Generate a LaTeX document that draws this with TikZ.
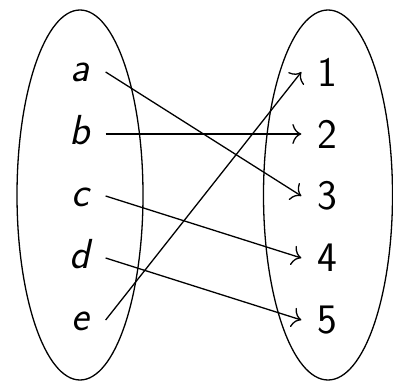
\documentclass[tikz,border=0pt]{standalone}
\usetikzlibrary{arrows.meta}
\begin{document}
\begin{tikzpicture}[x=1pt,y=1pt,
  line width=1.3pt,
  lbl/.style={font=\fontsize{42}{50}\selectfont\sffamily\itshape, inner sep=0pt, minimum width=50pt, text height=20pt, text depth=0pt, anchor=center},
  num/.style={font=\fontsize{42}{50}\selectfont\sffamily, inner sep=0pt, minimum width=50pt, anchor=center},
  arr/.style={-{Computer Modern Rightarrow[length=9pt,width=20pt]}}]
\useasboundingbox (0,0) rectangle (393,381);
\draw (80,186) ellipse [x radius=63, y radius=185];
\draw (328,186) ellipse [x radius=64.5, y radius=185];
\node[lbl] (a) at (80,309) {a};
\node[lbl] (b) at (80,247) {b};
\node[lbl] (c) at (80,185) {c};
\node[lbl] (d) at (80,123) {d};
\node[lbl] (e) at (80,61) {e};
\node[num] (n1) at (327,309) {1};
\node[num] (n2) at (327,247) {2};
\node[num] (n3) at (327,185) {3};
\node[num] (n4) at (327,123) {4};
\node[num] (n5) at (327,61) {5};
\draw[arr] (a.east) -- (n3.west);
\draw[arr] (b.east) -- (n2.west);
\draw[arr] (c.east) -- (n4.west);
\draw[arr] (d.east) -- (n5.west);
\draw[arr] (e.east) -- (n1.west);
\end{tikzpicture}
\end{document}
